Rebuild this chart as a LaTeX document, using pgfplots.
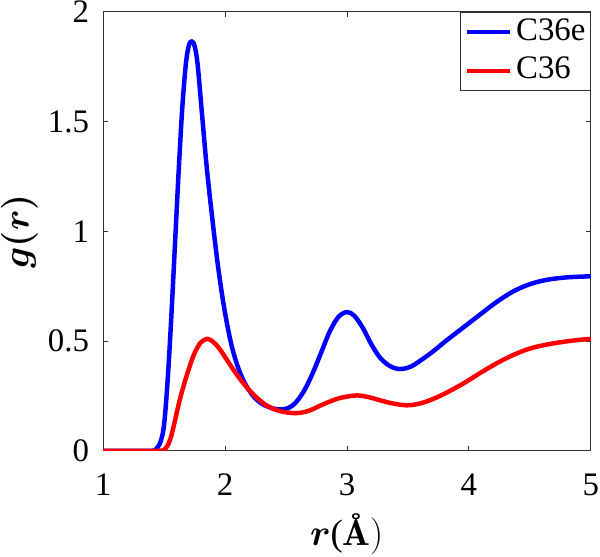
\RequirePackage{fix-cm}
\documentclass[border=0pt]{standalone}
\usepackage{amsmath}
\usepackage{bm}
\usepackage[no-math]{fontspec}
\setmainfont{Liberation Serif}
\newfontfamily\tnr{Liberation Serif}
\usepackage{pgfplots}
\pgfplotsset{compat=1.18}

\begin{document}
\tnr\fontsize{33}{40}\selectfont
\begin{tikzpicture}
\begin{axis}[
    scale only axis,
    width=490pt,
    height=441pt,
    xmin=1, xmax=5,
    ymin=0, ymax=2,
    xtick={1,2,3,4,5},
    ytick={0,0.5,1,1.5,2},
    tick pos=both,
    ticklabel pos=left,
    tick align=inside,
    major tick length=5pt,
    axis line style={black!80, line width=0.8pt},
    every tick/.style={black!80, line width=0.8pt},
    /pgf/number format/assume math mode=true,
    ticklabel style={font=\tnr\fontsize{33}{40}\selectfont, inner sep=1pt},
    xticklabel shift=22pt,
    yticklabel shift=13pt,
    xlabel={$\bm{r}$(\fontfamily{lmr}\selectfont\textbf{\AA})},
    ylabel={$\bm{g(r)}$},
    label style={font=\fontsize{37}{44}\selectfont, inner sep=1pt},
    xlabel shift=16pt,
    ylabel shift=8pt,
    legend cell align=left,
    legend style={at={(1,1)}, anchor=north east, draw=black!80, line width=0.8pt,
        font=\tnr\fontsize{33}{40}\selectfont, inner xsep=5pt, inner ysep=5pt,
        nodes={inner sep=0pt, text height=23pt, text depth=7pt},
        row sep=9pt,
        /tikz/every odd column/.style={column sep=4pt}},
    legend image code/.code={\draw[#1, line width=4pt] (0pt,0pt) -- (43pt,0pt);},
]
\addplot[blue, line width=4.5pt, smooth, tension=0.55] coordinates {
(1.00,0)(1.20,0)(1.40,0)(1.43,0.005)(1.47,0.04)(1.50,0.12)(1.53,0.33)(1.56,0.62)(1.59,0.95)(1.62,1.28)(1.65,1.57)(1.68,1.77)(1.705,1.85)(1.727,1.865)(1.75,1.845)(1.775,1.76)(1.81,1.54)(1.85,1.29)(1.895,1.06)(1.94,0.85)(1.99,0.66)(2.045,0.50)(2.10,0.39)(2.16,0.31)(2.23,0.25)(2.30,0.215)(2.38,0.195)(2.45,0.188)(2.52,0.195)(2.58,0.22)(2.65,0.275)(2.72,0.355)(2.79,0.45)(2.86,0.545)(2.93,0.61)(3.00,0.632)(3.06,0.615)(3.13,0.56)(3.20,0.485)(3.27,0.425)(3.34,0.39)(3.40,0.375)(3.46,0.373)(3.53,0.385)(3.60,0.41)(3.70,0.45)(3.81,0.50)(3.95,0.56)(4.09,0.62)(4.22,0.675)(4.36,0.725)(4.49,0.757)(4.63,0.778)(4.80,0.79)(5.0,0.795)
};
\addplot[red, line width=4.5pt, smooth, tension=0.55] coordinates {
(1.00,0)(1.20,0)(1.47,0)(1.50,0.005)(1.53,0.025)(1.56,0.07)(1.59,0.14)(1.63,0.235)(1.67,0.315)(1.71,0.385)(1.75,0.445)(1.80,0.493)(1.855,0.51)(1.90,0.497)(1.95,0.468)(2.02,0.41)(2.08,0.36)(2.14,0.315)(2.20,0.275)(2.26,0.242)(2.33,0.21)(2.40,0.19)(2.47,0.178)(2.55,0.172)(2.62,0.173)(2.70,0.185)(2.81,0.213)(2.94,0.24)(3.08,0.252)(3.18,0.244)(3.27,0.23)(3.38,0.215)(3.49,0.207)(3.58,0.213)(3.68,0.23)(3.80,0.26)(3.95,0.305)(4.08,0.35)(4.22,0.396)(4.35,0.433)(4.49,0.464)(4.63,0.483)(4.77,0.496)(4.90,0.505)(5.0,0.51)
};
\legend{C36e, C36}
\end{axis}
\end{tikzpicture}
\end{document}
